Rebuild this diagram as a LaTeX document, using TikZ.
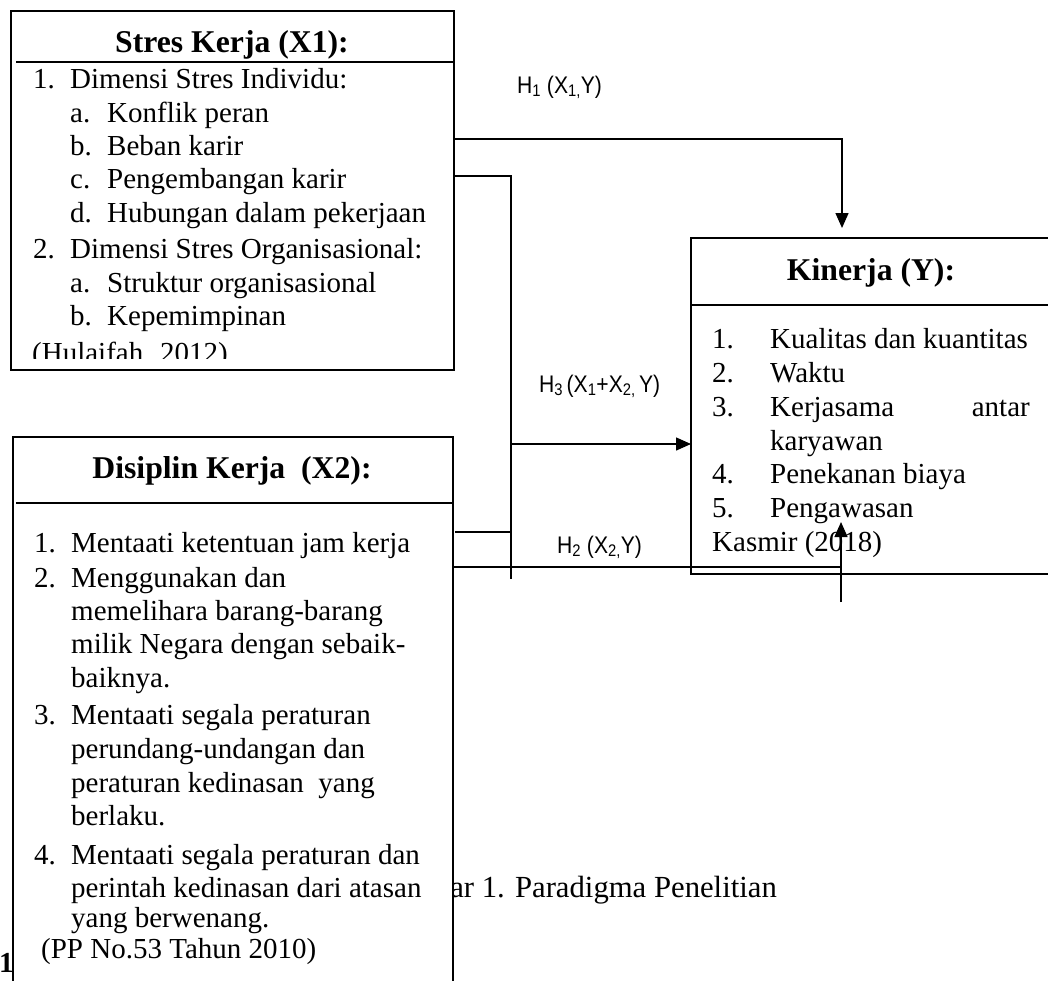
\documentclass[tikz,border=0pt]{standalone}
\usepackage{graphicx}
\usepackage{fontspec}
\setmainfont{Liberation Serif}
\newfontfamily\sansf{Liberation Sans}
\usetikzlibrary{arrows.meta}
\tikzset{
  box/.style={draw, line width=1.6pt, fill=white, inner sep=0pt, outer sep=0pt, anchor=north west},
  hline/.style={line width=1.6pt},
  conn/.style={line width=1.4pt},
  arr/.style={conn, -{Triangle[length=15pt,width=13pt]}},
  body/.style={anchor=base west, inner sep=0pt, font=\fontsize{29}{34}\selectfont},
  ttl/.style={anchor=base, inner sep=0pt, font=\fontsize{31.7}{38}\selectfont\bfseries},
  hlab/.style={anchor=base west, inner sep=0pt, font=\sansf\fontsize{24}{28}\selectfont},
  capt/.style={anchor=base east, inner sep=0pt, font=\fontsize{30.7}{36}\selectfont},
}
\newcommand{\narrowtext}[1]{\scalebox{0.88}[1]{#1}}
\begin{document}
\begin{tikzpicture}[x=1pt,y=-1pt]
\useasboundingbox (0,0) rectangle (1048,980);

% text partly hidden behind the lower box
\node[capt] (cap) at (777,897) {Gambar 1. Paradigma Penelitian};
\node[anchor=base west, inner sep=0pt, font=\fontsize{29}{34}\selectfont\bfseries] (one) at (-1,972) {1};

% ---------- Stres Kerja box ----------
\node[box, minimum width=443pt, minimum height=359pt] (x1) at (11,11) {};
\draw[hline] (16,62) -- (454,62);
\node[ttl] (x1t) at (232,52) {Stres Kerja (X1):};
\begin{scope}
\clip (12,12) rectangle (453,358);
\node[body] (a1n) at (33,88) {1.};
\node[body] (a1) at (70,88) {Dimensi Stres Individu:};
\node[body] (a2n) at (70,122) {a.};
\node[body] (a2) at (107,122) {Konflik peran};
\node[body] (a3n) at (70,155) {b.};
\node[body] (a3) at (107,155) {Beban karir};
\node[body] (a4n) at (70,188) {c.};
\node[body] (a4) at (107,188) {Pengembangan karir};
\node[body] (a5n) at (70,222) {d.};
\node[body] (a5) at (107,222) {Hubungan dalam pekerjaan};
\node[body] (a6n) at (33,258) {2.};
\node[body] (a6) at (70,258) {Dimensi Stres Organisasional:};
\node[body] (a7n) at (70,292) {a.};
\node[body] (a7) at (107,292) {Struktur organisasional};
\node[body] (a8n) at (70,325) {b.};
\node[body] (a8) at (107,325) {Kepemimpinan};
\node[body] (a9) at (32,362) {(Hulaifah. 2012)};
\end{scope}

% ---------- Disiplin Kerja box ----------
\node[box, minimum width=440pt, minimum height=600pt] (x2) at (13,437) {};
\draw[hline] (16,503) -- (453,503);
\node[ttl] (x2t) at (232,478) {Disiplin Kerja\ \ (X2):};
\node[body] (b1n) at (34,552) {1.};
\node[body] (b1) at (71,552) {Mentaati ketentuan jam kerja};
\node[body] (b2n) at (34,587) {2.};
\node[body] (b2) at (71,587) {Menggunakan dan};
\node[body] (b3) at (71,620) {memelihara barang-barang};
\node[body] (b4) at (71,653) {milik Negara dengan sebaik-};
\node[body] (b5) at (71,687) {baiknya.};
\node[body] (b6n) at (34,724) {3.};
\node[body] (b6) at (71,724) {Mentaati segala peraturan};
\node[body] (b7) at (71,758) {perundang-undangan dan};
\node[body] (b8) at (71,792) {peraturan kedinasan\ \ yang};
\node[body] (b9) at (71,825) {berlaku.};
\node[body] (b10n) at (34,864) {4.};
\node[body] (b10) at (71,864) {Mentaati segala peraturan dan};
\node[body] (b11) at (71,897) {perintah kedinasan dari atasan};
\node[body] (b12) at (71,927) {yang berwenang.};
\node[body] (b13) at (41,958) {(PP No.53 Tahun 2010)};

% ---------- Kinerja box ----------
\node[box, minimum width=361pt, minimum height=336pt] (y) at (691,238) {};
\draw[hline] (691,305) -- (1052,305);
\node[ttl] (yt) at (871,280) {Kinerja (Y):};
\node[body] (c1n) at (712,348) {1.};
\node[body] (c1) at (770,348) {Kualitas dan kuantitas};
\node[body] (c2n) at (712,382) {2.};
\node[body] (c2) at (770,382) {Waktu};
\node[body] (c3n) at (712,416) {3.};
\node[body] (c3) at (770,416) {Kerjasama};
\node[body, anchor=base east] (c3b) at (1030,416) {antar};
\node[body] (c4) at (770,450) {karyawan};
\node[body] (c5n) at (712,483) {4.};
\node[body] (c5) at (770,483) {Penekanan biaya};
\node[body] (c6n) at (712,517) {5.};
\node[body] (c6) at (770,517) {Pengawasan};
\node[body] (c7) at (712,551) {Kasmir (2018)};

% ---------- labels ----------
\node[hlab] (h1) at (517,93) {\narrowtext{H\textsubscript{1} (X\textsubscript{1,}Y)}};
\node[hlab] (h3) at (539,392) {\narrowtext{H\textsubscript{3}\,(X\textsubscript{1}+X\textsubscript{2,}\,Y)}};
\node[hlab] (h2) at (557,553) {\narrowtext{H\textsubscript{2} (X\textsubscript{2,}Y)}};

% ---------- connectors ----------
\coordinate (p1) at (454,139);
\coordinate (p1c) at (842,139);
\coordinate (p1e) at (842,228);
\draw[arr] (p1) -- (p1c) -- (p1e);

\coordinate (p2) at (454,176);
\coordinate (p2c) at (511,176);
\coordinate (p2e) at (511,579);
\draw[conn] (p2) -- (p2c) -- (p2e);

\coordinate (p3) at (511,444);
\draw[arr] (p3) -- (y.west |- p3);

\coordinate (p4) at (455,532);
\coordinate (p4e) at (511,532);
\draw[conn] (p4) -- (p4e);

\coordinate (p5) at (453,567);
\coordinate (p5e) at (841,567);
\draw[conn] (p5) -- (p5e);

\coordinate (p6) at (841,602);
\coordinate (p6e) at (841,522);
\draw[arr] (p6) -- (p6e);
\end{tikzpicture}
\end{document}
